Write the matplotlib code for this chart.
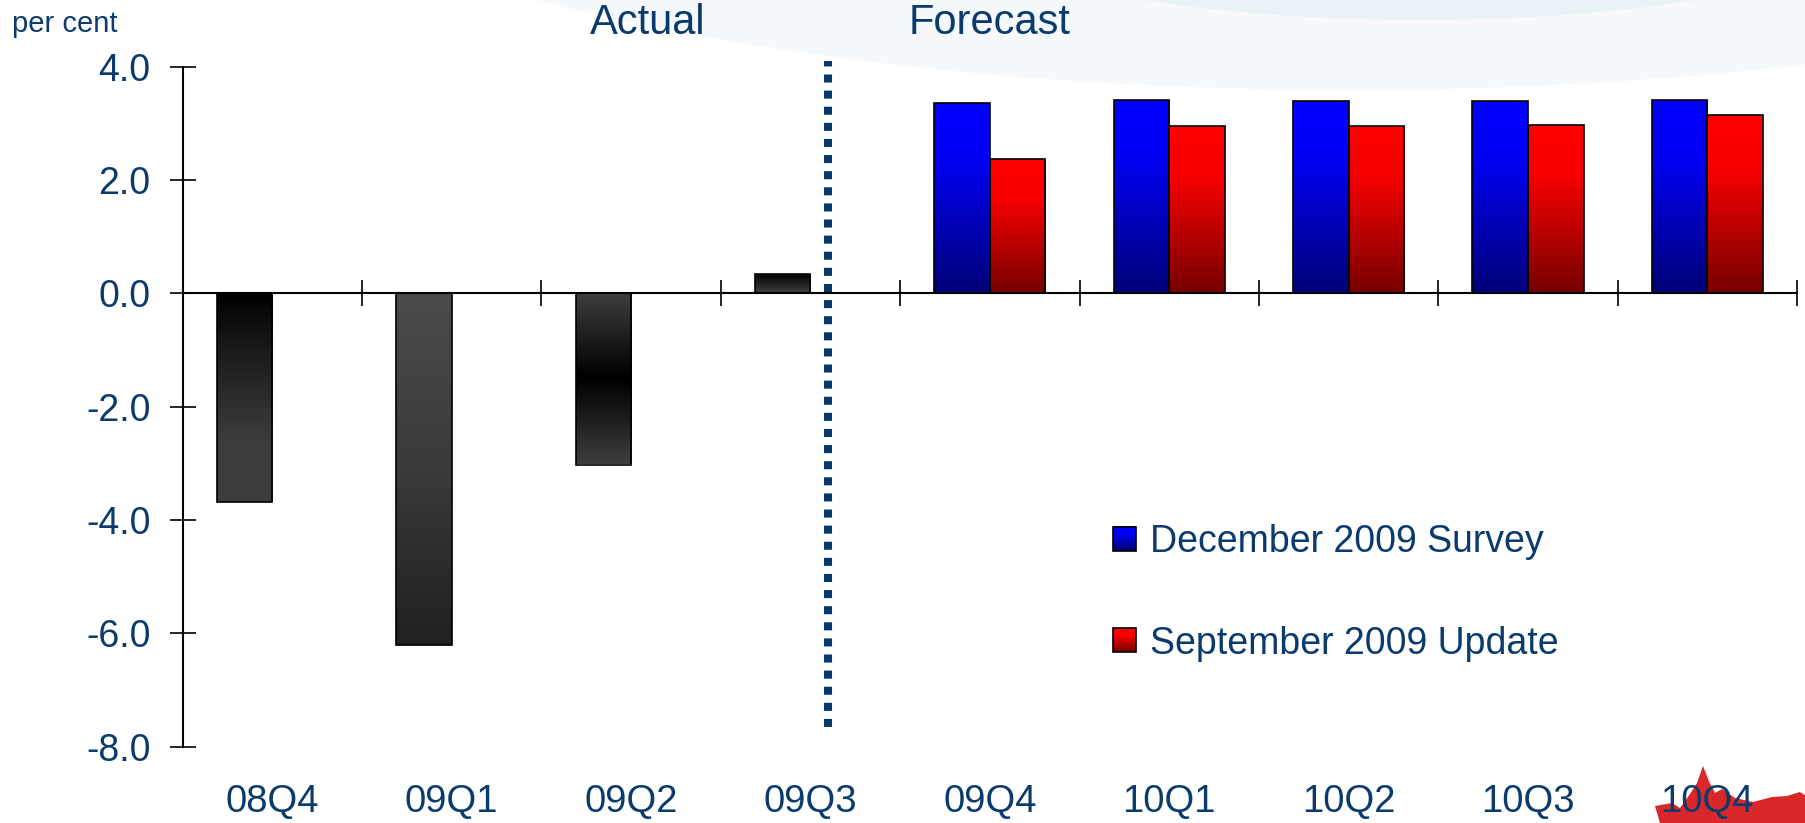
import numpy as np
import matplotlib
matplotlib.use('Agg')
import matplotlib.pyplot as plt
from matplotlib.colors import LinearSegmentedColormap
from matplotlib.legend_handler import HandlerBase
from matplotlib.patches import Rectangle, Ellipse, Polygon

plt.rcParams['font.family'] = ['Liberation Sans', 'DejaVu Sans']

categories = ['08Q4', '09Q1', '09Q2', '09Q3', '09Q4', '10Q1', '10Q2', '10Q3', '10Q4']
actual = [-3.68, -6.2, -3.02, 0.35]
december = [3.36, 3.42, 3.39, 3.39, 3.42]
september = [2.38, 2.95, 2.95, 2.98, 3.14]
series_names = ['December 2009 Survey', 'September 2009 Update']
yticks = [-8, -6, -4, -2, 0, 2, 4]

NAVY = '#0b3a6d'
W = 1806
H = 823

# gradient stops, top of bar first
blue_grad = [(0.0, '#0000ff'), (0.3, '#0000f4'), (1.0, '#000078')]
red_grad = [(0.0, '#ff0000'), (0.3, '#f80000'), (1.0, '#760000')]
actual_grads = [
    [(0.0, '#000000'), (0.2, '#141414'), (0.7, '#3c3c3c'), (1.0, '#3e3e3e')],
    [(0.0, '#4b4b4b'), (0.5, '#3a3a3a'), (1.0, '#202020')],
    [(0.0, '#3e3e3e'), (0.5, '#000000'), (1.0, '#3e3e3e')],
    [(0.0, '#000000'), (1.0, '#404040')],
]


def gradient_fill(ax, bar, stops):
    x0, y0 = bar.get_xy()
    w, h = bar.get_width(), bar.get_height()
    cmap = LinearSegmentedColormap.from_list('g', stops)
    grad = np.linspace(0, 1, 256).reshape(-1, 1)
    im = ax.imshow(grad, cmap=cmap, extent=(x0, x0 + w, min(y0, y0 + h), max(y0, y0 + h)),
                   origin='upper', aspect='auto', interpolation='bilinear', zorder=2)
    im.set_clip_path(bar)


class GradientBox(HandlerBase):
    def __init__(self, stops):
        super().__init__()
        self.cmap = LinearSegmentedColormap.from_list('h', stops)

    def create_artists(self, legend, orig_handle, xdescent, ydescent, width, height, fontsize, trans):
        n = 24
        arts = []
        for i in range(n):
            arts.append(Rectangle((-xdescent, -ydescent + height * (1 - (i + 1) / n)), width, height / n + 0.3,
                                  facecolor=self.cmap(i / (n - 1)), edgecolor='none', transform=trans))
        arts.append(Rectangle((-xdescent, -ydescent), width, height, facecolor='none',
                              edgecolor='black', lw=1.2, transform=trans))
        return arts


fig = plt.figure(figsize=(W / 100, H / 100), dpi=100)

# pale swoosh across the top
fig.patches.append(Ellipse((1350 / W, 1 + 250 / H), 2400 / W, 680 / H, transform=fig.transFigure,
                           facecolor='#f5f9fb', edgecolor='none', zorder=-2))
fig.patches.append(Ellipse((1420 / W, 1 + 100 / H), 1000 / W, 240 / H, transform=fig.transFigure,
                           facecolor='#e9f2f7', edgecolor='none', zorder=-2))

# maple leaf peeking in at the lower right
leaf = [(1655, 806), (1672, 803), (1680, 808), (1690, 794), (1697, 783), (1703, 766), (1709, 782),
        (1715, 793), (1722, 789), (1735, 798), (1753, 802), (1772, 797), (1787, 796), (1800, 792),
        (1806, 796), (1806, 823), (1660, 823)]
leaf_fig = [(x / W, 1 - y / H) for x, y in leaf]
shadow_fig = [((x + 3) / W, 1 - (y + 3) / H) for x, y in leaf]
fig.patches.append(Polygon(shadow_fig, closed=True, transform=fig.transFigure,
                           facecolor='#999999', alpha=0.35, edgecolor='none', zorder=-1))
fig.patches.append(Polygon(leaf_fig, closed=True, transform=fig.transFigure,
                           facecolor='#d8282a', edgecolor='none', zorder=-1))

ax = fig.add_axes([182.7 / W, 76.3 / H, (1797 - 182.7) / W, 680 / H])
ax.set_facecolor('none')

x = np.arange(len(categories))
bw = 0.31
n_act = len(actual)

act_bars = ax.bar(x[:n_act] - bw / 2, actual, bw, facecolor='none', edgecolor='black', lw=1.2, zorder=3)
dec_bars = ax.bar(x[n_act:] - bw / 2, december, bw, facecolor='none', edgecolor='black', lw=1.2, zorder=3)
sep_bars = ax.bar(x[n_act:] + bw / 2, september, bw, facecolor='none', edgecolor='black', lw=1.2, zorder=3)

for bar, stops in zip(act_bars, actual_grads):
    gradient_fill(ax, bar, stops)
for bar in dec_bars:
    gradient_fill(ax, bar, blue_grad)
for bar in sep_bars:
    gradient_fill(ax, bar, red_grad)

# actual / forecast divider
ax.vlines(n_act - 0.9, -7.65, 4.1, colors='#07386a', lw=5.8, linestyles=(0, (1, 1)),
          capstyle='butt', clip_on=False, zorder=4)

ax.set_xlim(-0.5, len(categories) - 0.5)
ax.set_ylim(-8, 4)

ax.spines['top'].set_visible(False)
ax.spines['right'].set_visible(False)
ax.spines['left'].set_linewidth(1.5)
ax.spines['bottom'].set_position(('data', 0))
ax.spines['bottom'].set_linewidth(1.5)
ax.spines['bottom'].set_zorder(5)

# category boundaries get ticks on the zero line
ax.set_xticks(list(x + 0.5))
ax.tick_params(axis='x', direction='inout', length=18.7, width=1.2, labelbottom=False)

ax.set_yticks(yticks)
ax.set_yticklabels([f'{v:.1f}' for v in yticks])
ax.tick_params(axis='y', direction='inout', length=18.7, width=1.2, pad=13.7,
               labelsize=27, labelcolor=NAVY)

sec = ax.secondary_xaxis('bottom')
sec.set_xticks(x, categories)
sec.tick_params(length=0, pad=27, labelsize=27.5, labelcolor=NAVY)
sec.spines['bottom'].set_visible(False)

fig.text(12 / W, 1 - 24 / H, 'per cent', fontsize=21, color=NAVY, va='center', ha='left')
fig.text(648 / W, 1 - 23 / H, 'Actual', fontsize=30, color=NAVY, va='center', ha='center')
fig.text(990 / W, 1 - 23 / H, 'Forecast', fontsize=30, color=NAVY, va='center', ha='center')

handles = [Rectangle((0, 0), 1, 1), Rectangle((0, 0), 1, 1)]
fig.legend(handles, series_names, loc='upper left', bbox_to_anchor=(1113 / W, 1 - 524 / H),
           frameon=False, fontsize=27, labelcolor=NAVY, borderpad=0, borderaxespad=0,
           handlelength=0.61, handleheight=0.61, handletextpad=0.37, labelspacing=1.75,
           handler_map={handles[0]: GradientBox(blue_grad), handles[1]: GradientBox(red_grad)})

fig.savefig('out.png', dpi=100, facecolor='white')
